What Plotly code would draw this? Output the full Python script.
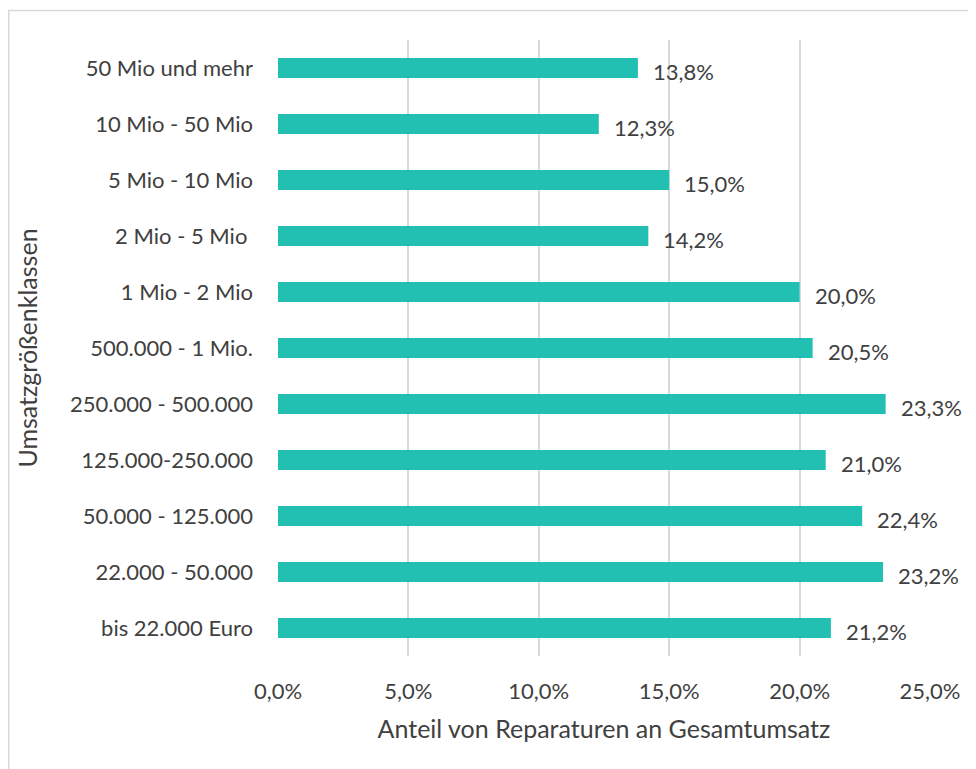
import plotly.graph_objects as go

categories = ["50 Mio und mehr", "10 Mio - 50 Mio", "5 Mio - 10 Mio", "2 Mio - 5 Mio ",
              "1 Mio - 2 Mio", "500.000 - 1 Mio.", "250.000 - 500.000", "125.000-250.000",
              "50.000 - 125.000", "22.000 - 50.000", "bis 22.000 Euro"]
values = [13.8, 12.3, 15.0, 14.2, 20.0, 20.5, 23.3, 21.0, 22.4, 23.2, 21.2]
tick_vals = [0, 5, 10, 15, 20, 25]
tick_text = ["0,0%", "5,0%", "10,0%", "15,0%", "20,0%", "25,0%"]
labels = [f"{v:.1f}%".replace(".", ",") for v in values]

FONT = "Lato"
TXT = "#404040"
GRID = "#d9d9d9"

# figure is placed at page offset (8, 8) by the default body margin
L, R, T, B = 270, 54, 32, 121
PW, PH = 976 - L - R, 769 - T - B

fig = go.Figure()
fig.add_trace(go.Bar(x=values, y=categories, orientation="h",
                     marker=dict(color="#22bfb3", line=dict(width=0)),
                     hoverinfo="x+y"))
for c, v, t in zip(categories, values, labels):
    fig.add_annotation(x=v, y=c, text=t, showarrow=False, xanchor="left",
                       xshift=13, yshift=-3, font=dict(family=FONT, size=22, color=TXT))

fig.update_layout(
    width=976, height=769,
    margin=dict(l=L, r=R, t=T, b=B, autoexpand=False),
    paper_bgcolor="white", plot_bgcolor="white",
    bargap=0.64, showlegend=False,
    font=dict(family=FONT, color=TXT, size=22),
)
fig.update_xaxes(range=[0, 25], tickvals=tick_vals, ticktext=tick_text,
                 showgrid=True, gridcolor=GRID, gridwidth=1.5, zeroline=False,
                 showline=False, ticks="", ticklabelstandoff=20,
                 tickfont=dict(family=FONT, size=22, color=TXT),
                 title=dict(text="Anteil von Reparaturen an Gesamtumsatz",
                            font=dict(family=FONT, size=25, color=TXT), standoff=17))
fig.update_yaxes(autorange="reversed", showgrid=False, showline=False, ticks="",
                 ticklabelstandoff=24,
                 tickfont=dict(family=FONT, size=22, color=TXT),
                 title=dict(text="Umsatzgrößenklassen",
                            font=dict(family=FONT, size=25, color=TXT), standoff=25))
fig.add_shape(type="rect", xref="paper", yref="paper",
              x0=(0.75 - L) / PW, x1=(1000 - L) / PW,
              y0=(T + PH - 800) / PH, y1=(T + PH - 2.5) / PH,
              line=dict(color=GRID, width=1.5), fillcolor="rgba(0,0,0,0)", layer="below")

fig.write_html("out.html")
